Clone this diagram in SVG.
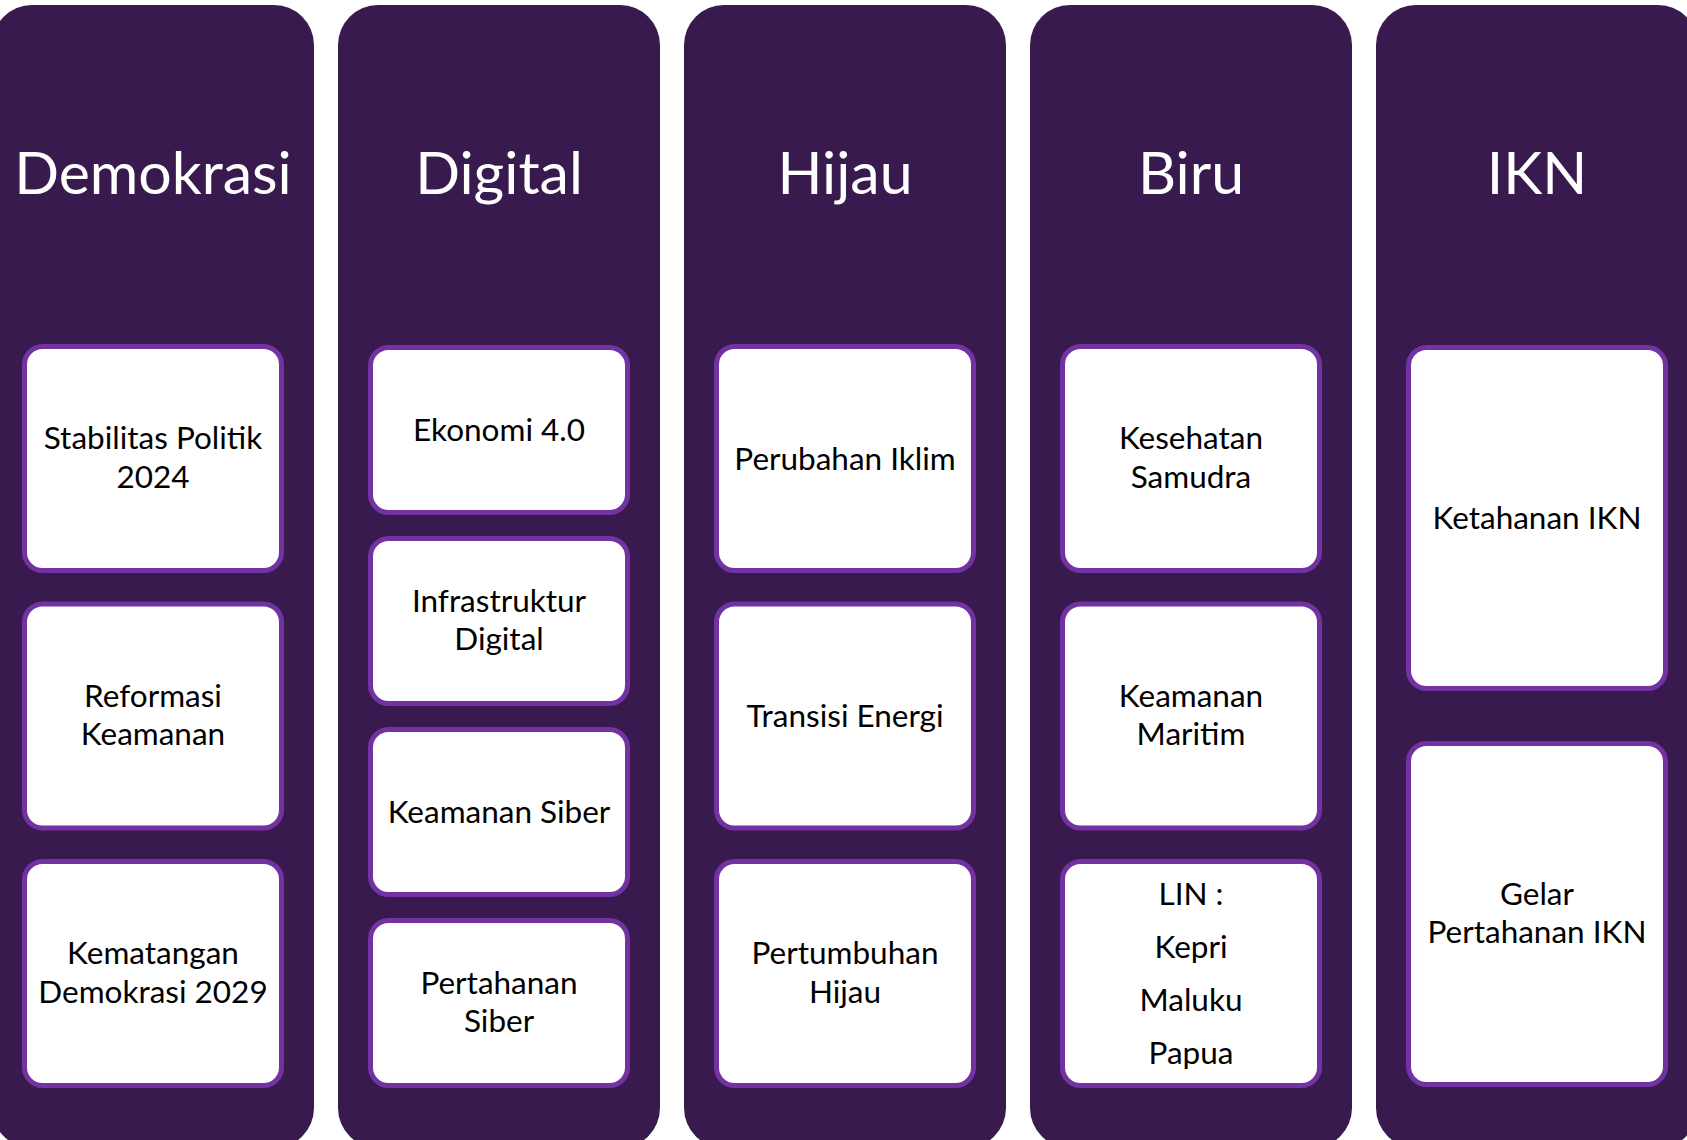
<svg xmlns="http://www.w3.org/2000/svg" width="1687" height="1140" viewBox="0 0 1687 1140">
<style>
.col{fill:#391A4F}
.box{fill:#FFFFFF;stroke:#7332A2;stroke-width:5}
.title{font-family:Lato,"Open Sans",sans-serif;font-size:59px;fill:#FFFFFF;text-anchor:middle}
.lbl{font-family:Lato,"Open Sans",sans-serif;font-size:31.5px;fill:#000000;text-anchor:middle}
</style>
<rect width="1687" height="1140" fill="#FFFFFF"/>
<g id="col-demokrasi">
<rect class="col" x="-8" y="5" width="322" height="1143" rx="40"/>
<text class="title" x="153" y="194">Demokrasi</text>
<g id="n-stabilitas"><rect class="box" x="24.5" y="346.5" width="257" height="224" rx="18"/><text class="lbl" x="153" y="449">Stabilitas Politik</text><text class="lbl" x="153" y="487.5">2024</text></g>
<g id="n-reformasi"><rect class="box" x="24.5" y="604" width="257" height="224" rx="18"/><text class="lbl" x="153" y="706.5">Reformasi</text><text class="lbl" x="153" y="745">Keamanan</text></g>
<g id="n-kematangan"><rect class="box" x="24.5" y="861.5" width="257" height="224" rx="18"/><text class="lbl" x="153" y="964">Kematangan</text><text class="lbl" x="153" y="1002.5">Demokrasi 2029</text></g>
</g>
<g id="col-digital">
<rect class="col" x="338" y="5" width="322" height="1143" rx="40"/>
<text class="title" x="499" y="194">Digital</text>
<g id="n-ekonomi"><rect class="box" x="370.5" y="347.5" width="257" height="165" rx="18"/><text class="lbl" x="499" y="441">Ekonomi 4.0</text></g>
<g id="n-infrastruktur"><rect class="box" x="370.5" y="538.5" width="257" height="165" rx="18"/><text class="lbl" x="499" y="611.5">Infrastruktur</text><text class="lbl" x="499" y="650">Digital</text></g>
<g id="n-keamanan-siber"><rect class="box" x="370.5" y="729.5" width="257" height="165" rx="18"/><text class="lbl" x="499" y="823">Keamanan Siber</text></g>
<g id="n-pertahanan-siber"><rect class="box" x="370.5" y="920.5" width="257" height="165" rx="18"/><text class="lbl" x="499" y="993.5">Pertahanan</text><text class="lbl" x="499" y="1032">Siber</text></g>
</g>
<g id="col-hijau">
<rect class="col" x="684" y="5" width="322" height="1143" rx="40"/>
<text class="title" x="845" y="194">Hijau</text>
<g id="n-perubahan"><rect class="box" x="716.5" y="346.5" width="257" height="224" rx="18"/><text class="lbl" x="845" y="469.5">Perubahan Iklim</text></g>
<g id="n-transisi"><rect class="box" x="716.5" y="604" width="257" height="224" rx="18"/><text class="lbl" x="845" y="727">Transisi Energi</text></g>
<g id="n-pertumbuhan"><rect class="box" x="716.5" y="861.5" width="257" height="224" rx="18"/><text class="lbl" x="845" y="964">Pertumbuhan</text><text class="lbl" x="845" y="1002.5">Hijau</text></g>
</g>
<g id="col-biru">
<rect class="col" x="1030" y="5" width="322" height="1143" rx="40"/>
<text class="title" x="1191" y="194">Biru</text>
<g id="n-kesehatan"><rect class="box" x="1062.5" y="346.5" width="257" height="224" rx="18"/><text class="lbl" x="1191" y="449">Kesehatan</text><text class="lbl" x="1191" y="487.5">Samudra</text></g>
<g id="n-maritim"><rect class="box" x="1062.5" y="604" width="257" height="224" rx="18"/><text class="lbl" x="1191" y="706.5">Keamanan</text><text class="lbl" x="1191" y="745">Maritim</text></g>
<g id="n-lin"><rect class="box" x="1062.5" y="861.5" width="257" height="224" rx="18"/><text class="lbl" x="1191" y="905">LIN :</text><text class="lbl" x="1191" y="958">Kepri</text><text class="lbl" x="1191" y="1011">Maluku</text><text class="lbl" x="1191" y="1064">Papua</text></g>
</g>
<g id="col-ikn">
<rect class="col" x="1376" y="5" width="322" height="1143" rx="40"/>
<text class="title" x="1537" y="194">IKN</text>
<g id="n-ketahanan"><rect class="box" x="1408.5" y="347.5" width="257" height="341" rx="18"/><text class="lbl" x="1537" y="529">Ketahanan IKN</text></g>
<g id="n-gelar"><rect class="box" x="1408.5" y="743.5" width="257" height="341" rx="18"/><text class="lbl" x="1537" y="904.5">Gelar</text><text class="lbl" x="1537" y="943">Pertahanan IKN</text></g>
</g>
<g id="connectors"/>
</svg>
